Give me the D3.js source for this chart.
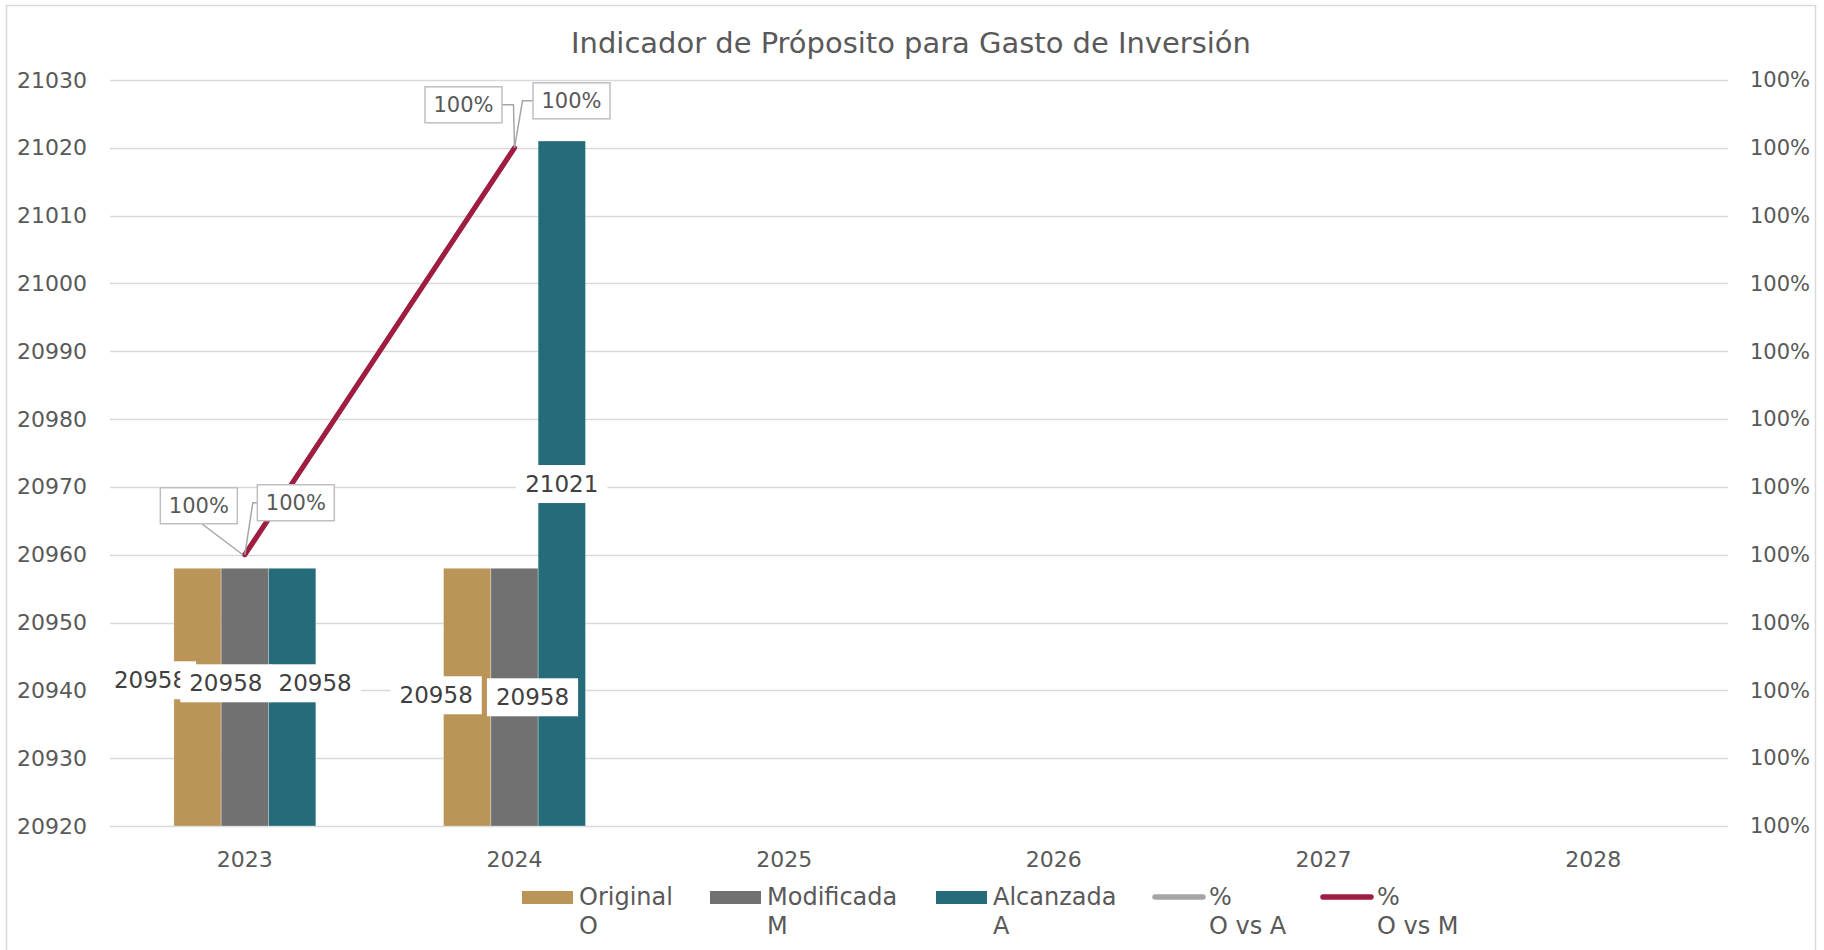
<!DOCTYPE html>
<html>
<head>
<meta charset="utf-8">
<script src="https://cdn.jsdelivr.net/npm/d3@7"></script>
<style>
  html, body { margin: 0; padding: 0; background: #fff; }
  svg { display: block; }
  text { font-family: "DejaVu Sans", sans-serif; }
</style>
</head>
<body>
<svg id="chart" width="1824" height="950"></svg>
<script>
// ---------------- DATA ----------------
const years = ["2023", "2024", "2025", "2026", "2027", "2028"];
const barSeries = ["Original", "Modificada", "Alcanzada"];
const original   = [20958, 20958, null, null, null, null];
const modificada = [20958, 20958, null, null, null, null];
const alcanzada  = [20958, 21021, null, null, null, null];
const lineSeries = ["% O vs A", "% O vs M"];
const pctOvsA = [0.99999, 1.00005, null, null, null, null];
const pctOvsM = [0.99999, 1.00005, null, null, null, null];
const leftTicks = [20920, 20930, 20940, 20950, 20960, 20970, 20980, 20990, 21000, 21010, 21020, 21030];
const rightTicks = [0.99995, 0.99996, 0.99997, 0.99998, 0.99999, 1.00000, 1.00001, 1.00002, 1.00003, 1.00004, 1.00005, 1.00006];
const legendLabels = [["Original", "O"], ["Modificada", "M"], ["Alcanzada", "A"], ["%", "O vs A"], ["%", "O vs M"]];
const title = "Indicador de Próposito para Gasto de Inversión";

// ---------------- LAYOUT / STYLE ----------------
const barColors = { "Original": "#bb9558", "Modificada": "#707170", "Alcanzada": "#266b7a" };
const lineColors = { "% O vs A": "#a5a5a5", "% O vs M": "#a01c41" };
const textColor = "#595959";
const plot = { left: 110, right: 1728, top: 80, bottom: 826 };
// label offsets (px) relative to each bar's top-centre, per series per year
const barLabelOffsets = {
  "Original":   [[-47, 112], [-31, 127]],
  "Modificada": [[-19, 115], [18, 129]],
  "Alcanzada":  [[23, 115], [0, 343]]
};
// line label box centres relative to points, and leader style
const lineLabelOffsets = {
  "% O vs A": [{dx: -46, dy: -49, leader: "bottom"}, {dx: -51, dy: -43, leader: "side"}],
  "% O vs M": [{dx: 51, dy: -52, leader: "side"}, {dx: 57, dy: -47, leader: "side"}]
};

const svg = d3.select("#chart");

// outer border
svg.append("rect").attr("x", 6.5).attr("y", 5.5).attr("width", 1809).attr("height", 960)
  .attr("fill", "#fff").attr("stroke", "#d9d9d9").attr("stroke-width", 1.5);

// scales
const x = d3.scaleBand().domain(years).range([plot.left, plot.right]).paddingInner(0).paddingOuter(0);
const x1 = d3.scaleBand().domain(barSeries).range([0, x.bandwidth()]).paddingInner(0).paddingOuter(1.35);
const y = d3.scaleLinear().domain([20920, 21030]).range([plot.bottom, plot.top]);
const yR = d3.scaleLinear().domain([0.99995, 1.00006]).range([plot.bottom, plot.top]);

// gridlines
svg.append("g").selectAll("line").data(leftTicks).join("line")
  .attr("x1", plot.left).attr("x2", plot.right)
  .attr("y1", d => Math.round(y(d)) + 0.5).attr("y2", d => Math.round(y(d)) + 0.5)
  .attr("stroke", "#d9d9d9").attr("stroke-width", 1.5);

// left axis
const leftAxis = svg.append("g").attr("transform", `translate(${plot.left},0)`)
  .call(d3.axisLeft(y).tickValues(leftTicks).tickSize(0).tickPadding(23).tickFormat(d3.format("d")));
leftAxis.select(".domain").remove();
leftAxis.selectAll("text").attr("font-size", 22).attr("fill", textColor).attr("font-family", "DejaVu Sans");

// right axis
const rightAxis = svg.append("g").attr("transform", `translate(${plot.right},0)`)
  .call(d3.axisRight(yR).tickValues(rightTicks).tickSize(0).tickPadding(22).tickFormat(d3.format(".0%")));
rightAxis.select(".domain").remove();
rightAxis.selectAll("text").attr("font-size", 21).attr("fill", textColor).attr("font-family", "DejaVu Sans");

// x axis
const xAxis = svg.append("g").attr("transform", `translate(0,${plot.bottom})`)
  .call(d3.axisBottom(x).tickSize(0).tickPadding(25));
xAxis.select(".domain").remove();
xAxis.selectAll("text").attr("font-size", 22).attr("fill", textColor).attr("font-family", "DejaVu Sans");

// bars
const seriesValues = { "Original": original, "Modificada": modificada, "Alcanzada": alcanzada };
const barData = [];
barSeries.forEach(s => {
  years.forEach((yr, i) => {
    const v = seriesValues[s][i];
    if (v != null) barData.push({ s, yr, i, v });
  });
});
svg.append("g").selectAll("rect").data(barData).join("rect")
  .attr("x", d => x(d.yr) + x1(d.s))
  .attr("width", x1.bandwidth())
  .attr("y", d => y(d.v))
  .attr("height", d => y(20920) - y(d.v))
  .attr("fill", d => barColors[d.s])
  .attr("stroke", "rgba(255,255,255,0.35)").attr("stroke-width", 0.8);

// lines
const lineValues = { "% O vs A": pctOvsA, "% O vs M": pctOvsM };
const lineGen = d3.line().defined(d => d.v != null)
  .x(d => x(d.yr) + x.bandwidth() / 2).y(d => yR(d.v));
lineSeries.forEach(s => {
  const pts = years.map((yr, i) => ({ yr, v: lineValues[s][i] }));
  svg.append("path").datum(pts).attr("d", lineGen)
    .attr("fill", "none").attr("stroke", lineColors[s]).attr("stroke-width", 5)
    .attr("stroke-linecap", "round");
});

// bar data labels
const barLabelG = svg.append("g");
barData.forEach(d => {
  const off = barLabelOffsets[d.s][d.i];
  const cx = x(d.yr) + x1(d.s) + x1.bandwidth() / 2 + off[0];
  const cy = y(d.v) + off[1];
  const g = barLabelG.append("g");
  const t = g.append("text").attr("x", cx).attr("y", cy).attr("text-anchor", "middle")
    .attr("dominant-baseline", "central").attr("font-size", 23).attr("fill", "#404040")
    .text(d3.format("d")(d.v));
  const w = t.node().getComputedTextLength();
  g.insert("rect", "text").attr("x", cx - w / 2 - 9).attr("y", cy - 19)
    .attr("width", w + 18).attr("height", 38).attr("fill", "#fff");
});

// line data labels
const lineLabelG = svg.append("g");
lineSeries.forEach(s => {
  years.forEach((yr, i) => {
    const v = lineValues[s][i];
    if (v == null) return;
    const px = x(yr) + x.bandwidth() / 2, py = yR(v);
    const o = lineLabelOffsets[s][i];
    const cx = px + o.dx, cy = py + o.dy;
    const bw = 77, bh = 36;
    let pathD;
    if (o.leader === "bottom") {
      pathD = `M${cx + 3},${cy + bh / 2} L${px - 2},${py}`;
    } else {
      const sideX = o.dx < 0 ? cx + bw / 2 : cx - bw / 2;
      const elbowX = o.dx < 0 ? px - 1 : px + 8;
      pathD = `M${sideX},${cy} L${elbowX},${cy} L${px},${py}`;
    }
    lineLabelG.append("path").attr("d", pathD).attr("fill", "none")
      .attr("stroke", "#a6a6a6").attr("stroke-width", 1.5);
    lineLabelG.append("rect").attr("x", cx - bw / 2).attr("y", cy - bh / 2)
      .attr("width", bw).attr("height", bh).attr("fill", "#fff")
      .attr("stroke", "#bfbfbf").attr("stroke-width", 1.5);
    lineLabelG.append("text").attr("x", cx).attr("y", cy).attr("text-anchor", "middle")
      .attr("dominant-baseline", "central").attr("font-size", 21).attr("fill", textColor)
      .text(d3.format(".0%")(v));
  });
});

// title
const tt = svg.append("text").attr("x", 911).attr("y", 43).attr("text-anchor", "middle")
  .attr("dominant-baseline", "central").attr("fill", textColor).attr("font-size", 25)
  .attr("font-family", "Open Sans").text(title);
const tw = tt.node().getComputedTextLength();
tt.attr("font-size", 25 * 680 / tw);

// legend
const legendX = [522, 710, 936, 1152, 1320];
const legendKeys = ["Original", "Modificada", "Alcanzada", "% O vs A", "% O vs M"];
const legend = svg.append("g");
legendKeys.forEach((k, i) => {
  const lx = legendX[i];
  if (barColors[k]) {
    legend.append("rect").attr("x", lx).attr("y", 891).attr("width", 51).attr("height", 13)
      .attr("fill", barColors[k]);
  } else {
    legend.append("line").attr("x1", lx + 3).attr("x2", lx + 51).attr("y1", 897).attr("y2", 897)
      .attr("stroke", lineColors[k]).attr("stroke-width", 5.5).attr("stroke-linecap", "round");
  }
  legendLabels[i].forEach((line, j) => {
    legend.append("text").attr("x", lx + 57).attr("y", 897 + j * 29)
      .attr("dominant-baseline", "central").attr("font-size", 24).attr("fill", textColor)
      .text(line);
  });
});
</script>
</body>
</html>
